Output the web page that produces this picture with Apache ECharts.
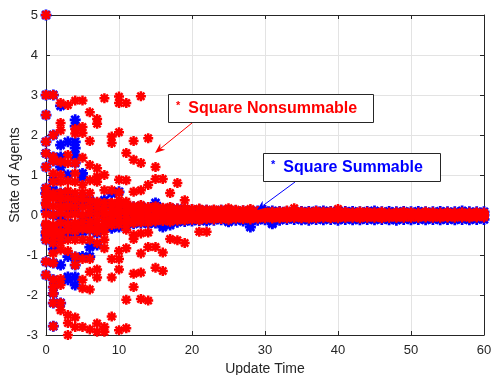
<!DOCTYPE html>
<html>
<head>
<meta charset="utf-8">
<script src="https://cdn.jsdelivr.net/npm/echarts@6/dist/echarts.min.js"></script>
<style>
html,body{margin:0;padding:0;background:#fff;}
#chart{width:491px;height:375px;}
</style>
</head>
<body>
<div id="chart"></div>
<script>
// ---- Data ----
const times = [0,1,2,3,4,5,6,7,8,9,10,11,12,13,14,15,16,17,18,19,20,21,22,23,24,25,26,27,28,29,30,31,32,33,34,35,36,37,38,39,40,41,42,43,44,45,46,47,48,49,50,51,52,53,54,55,56,57,58,59,60];
const xTicks = [0,10,20,30,40,50,60];
const yTicks = [-3,-2,-1,0,1,2,3,4,5];

// Square Nonsummable (red) – dense band around consensus
const redTop = [0.45,0.42,0.4,0.42,0.38,0.4,0.35,0.33,0.3,0.3, 0.26,0.24,0.22,0.25,0.2,0.22,0.18,0.2,0.16,0.17, 0.15,0.16,0.13,0.14,0.13,0.17,0.13,0.12,0.15,0.1, 0.09,0.08,0.09,0.11,0.17,0.09,0.08,0.1,0.08,0.09, 0.15,0.08,0.07,0.09,0.08,0.07,0.08,0.06,0.07,0.08, 0.07,0.06,0.08,0.07,0.06,0.07,0.06,0.07,0.06,0.07,0.06];
const redHigh = [0.25,0.22,0.2,0.22,0.2,0.2,0.18,0.17,0.15,0.15, 0.13,0.12,0.11,0.12,0.1,0.11,0.09,0.1,0.08,0.09, 0.07,0.08,0.06,0.07,0.06,0.08,0.06,0.05,0.07,0.05, 0.04,0.04,0.05,0.05,0.08,0.04,0.04,0.05,0.04,0.05, 0.07,0.04,0.03,0.04,0.04,0.03,0.04,0.03,0.04,0.04, 0.03,0.03,0.04,0.03,0.03,0.03,0.03,0.04,0.03,0.03,0.03];
const redMid = [0.02,0.0,0.05,0.0,0.02,0.0,0.03,0.01,0.02,0.0, 0.03,0.02,0.04,0.01,0.03,0.02,0.01,0.03,0.02,0.01, 0.02,0.0,0.01,0.02,0.0,0.01,0.02,0.0,0.01,0.0, 0.01,0.0,0.01,0.0,0.02,0.01,0.0,0.01,0.0,0.01, 0.02,0.0,0.01,0.0,0.01,0.0,0.01,0.0,0.01,0.0, 0.01,0.0,0.01,0.0,0.01,0.0,0.01,0.0,0.0,0.01,0.0];
const redLow = [-0.22,-0.25,-0.2,-0.22,-0.2,-0.18,-0.17,-0.15,-0.15,-0.13, -0.12,-0.12,-0.1,-0.09,-0.1,-0.08,-0.09,-0.08,-0.07,-0.07, -0.06,-0.07,-0.05,-0.06,-0.05,-0.06,-0.05,-0.05,-0.06,-0.04, -0.04,-0.05,-0.04,-0.04,-0.04,-0.04,-0.05,-0.04,-0.04,-0.04, -0.04,-0.04,-0.03,-0.04,-0.04,-0.03,-0.04,-0.03,-0.04,-0.03, -0.03,-0.04,-0.03,-0.03,-0.04,-0.03,-0.03,-0.03,-0.03,-0.03,-0.03];
const redBottom = [-0.45,-0.4,-0.42,-0.38,-0.4,-0.35,-0.32,-0.3,-0.28,-0.25, -0.24,-0.22,-0.2,-0.18,-0.19,-0.16,-0.15,-0.17,-0.14,-0.13, -0.12,-0.13,-0.1,-0.11,-0.1,-0.12,-0.09,-0.1,-0.11,-0.09, -0.08,-0.09,-0.08,-0.08,-0.07,-0.08,-0.09,-0.08,-0.07,-0.08, -0.08,-0.07,-0.07,-0.08,-0.07,-0.07,-0.08,-0.07,-0.07,-0.07, -0.07,-0.07,-0.06,-0.07,-0.07,-0.06,-0.07,-0.06,-0.07,-0.06,-0.06];

// Square Nonsummable (red) – scattered states [time, state]
const redScatter = [
[0,5.0],[0,3.0],[0,2.5],[0,1.83],[0,1.54],[0,1.2],[0,0.67],[0,0.54],[0,0.3],[0,-0.25],[0,-0.42],[0,-0.62],[0,-1.17],[0,-1.5],
[1,3.0],[1,2.0],[1,1.45],[1,1.35],[1,1.04],[1,0.83],[1,0.54],[1,-0.3],[1,-0.54],[1,-0.7],[1,-0.96],[1,-1.2],[1,-1.62],[1,-1.8],[1,-1.96],[1,-2.2],[1,-2.78],
[2,2.8],[2,2.3],[2,2.12],[2,1.33],[2,1.0],[2,0.83],[2,0.55],[2,0.2],[2,-0.54],[2,-0.7],[2,-0.87],[2,-1.6],[2,-1.75],[2,-2.2],[2,-2.38],
[3,2.75],[3,1.5],[3,1.3],[3,0.85],[3,0.6],[3,0.2],[3,-0.62],[3,-0.9],[3,-2.5],[3,-2.7],[3,-3.0],
[4,2.86],[4,2.04],[4,2.15],[4,1.3],[4,1.04],[4,0.83],[4,0.55],[4,-0.3],[4,-0.62],[4,-1.04],[4,-1.25],[4,-2.56],[4,-2.8],
[5,2.86],[5,2.2],[5,2.05],[5,1.43],[5,0.75],[5,0.55],[5,-0.62],[5,-1.1],[5,-1.62],[5,-1.83],[5,-2.8],
[6,2.57],[6,1.85],[6,1.25],[6,0.87],[6,0.55],[6,-0.37],[6,-0.62],[6,-1.1],[6,-1.42],[6,-1.86],[6,-2.86],
[7,2.4],[7,2.28],[7,1.17],[7,0.96],[7,0.83],[7,-0.42],[7,-0.7],[7,-1.36],[7,-1.56],[7,-2.71],[7,-2.92],
[8,2.92],[8,1.0],[8,0.62],[8,-0.42],[8,-0.62],[8,-0.83],[8,-2.8],[8,-2.92],
[9,1.96],[9,1.8],[9,0.62],[9,0.3],[9,-1.1],[9,-1.56],[9,-2.54],
[10,2.96],[10,2.8],[10,2.07],[10,0.88],[10,0.56],[10,0.37],[10,-0.9],[10,-1.1],[10,-1.36],[10,-2.88],
[11,2.8],[11,1.55],[11,0.87],[11,0.33],[11,-0.37],[11,-0.83],[11,-2.12],[11,-2.83],
[12,1.85],[12,1.38],[12,0.58],[12,-0.5],[12,-0.6],[12,-1.47],[12,-1.8],
[13,2.97],[13,1.3],[13,0.62],[13,-0.46],[13,-0.96],[13,-1.44],[13,-2.1],
[14,1.92],[14,0.75],[14,-0.44],[14,-0.8],[14,-2.14],
[15,1.2],[15,0.9],[15,-0.8],[15,-1.32],
[16,0.9],[16,-0.94],[16,-1.4],
[17,0.55],[17,-0.6],
[18,0.8],[18,-0.63],
[19,0.37],[19,-0.7],
[21,-0.42],[22,-0.42]
];

// Square Summable (blue) – dense band
const blueTop = [0.55,0.5,0.45,0.4,0.38,0.35,0.32,0.3,0.28,0.26, 0.24,0.22,0.2,0.22,0.18,0.22,0.16,0.17,0.15,0.15, 0.13,0.13,0.12,0.11,0.12,0.12,0.11,0.1,0.1,0.1, 0.11,0.1,0.09,0.09,0.1,0.09,0.09,0.1,0.1,0.09, 0.1,0.09,0.09,0.08,0.09,0.1,0.08,0.09,0.08,0.09, 0.08,0.09,0.08,0.08,0.09,0.08,0.08,0.1,0.08,0.08,0.08];
const blueMid = [0.1,0.0,-0.1,0.05,0.1,-0.05,0.0,0.05,-0.02,0.0, 0.02,0.0,0.03,-0.02,0.0,0.02,-0.01,0.0,0.01,0.0, 0.01,0.0,0.0,0.01,0.0,0.0,0.01,0.0,0.0,0.0, 0.0,0.01,0.0,0.0,0.0,0.01,0.0,0.0,0.0,0.01, 0.0,0.0,0.01,0.0,0.0,0.0,0.01,0.0,0.0,0.0, 0.01,0.0,0.0,0.0,0.01,0.0,0.0,0.0,0.01,0.0,0.0];
const blueBottom = [-0.5,-0.55,-0.6,-0.5,-0.45,-0.42,-0.38,-0.34,-0.3,-0.28, -0.26,-0.24,-0.22,-0.2,-0.22,-0.2,-0.24,-0.2,-0.18,-0.16, -0.15,-0.14,-0.15,-0.13,-0.12,-0.17,-0.13,-0.15,-0.22,-0.13, -0.12,-0.2,-0.13,-0.11,-0.11,-0.12,-0.13,-0.11,-0.12,-0.11, -0.13,-0.11,-0.12,-0.12,-0.11,-0.12,-0.11,-0.12,-0.13,-0.11, -0.12,-0.11,-0.12,-0.11,-0.12,-0.11,-0.12,-0.11,-0.12,-0.11,-0.11];

// Square Summable (blue) – scattered states [time, state]
const blueScatter = [
[0,5.0],[0,3.0],[0,2.5],[0,1.83],[0,1.54],[0,1.2],[0,0.67],[0,0.54],[0,0.3],[0,-0.25],[0,-0.42],[0,-0.62],[0,-1.17],[0,-1.5],
[1,3.0],[1,2.0],[1,1.45],[1,1.35],[1,0.87],[1,0.62],[1,-0.5],[1,-0.7],[1,-0.85],[1,-1.2],[1,-1.62],[1,-1.8],[1,-1.96],[1,-2.2],[1,-2.78],
[2,2.73],[2,1.75],[2,1.45],[2,1.2],[2,0.55],[2,0.3],[2,-0.25],[2,-0.5],[2,-1.25],[2,-2.2],
[3,1.83],[3,1.0],[3,0.5],[3,0.45],[3,-0.2],[3,-0.35],[3,-1.04],[3,-1.55],[3,-1.62],
[4,2.38],[4,2.22],[4,1.83],[4,1.67],[4,1.5],[4,1.3],[4,0.33],[4,-0.37],[4,-1.05],[4,-1.25],[4,-1.55],[4,-1.75],
[5,1.04],[5,0.95],[5,0.46],[5,-0.33],[5,-1.04],
[6,0.37],[6,-0.2],[6,-0.8],[6,-1.04],
[7,-0.45],[7,-0.75],
[8,0.37],[9,0.54],[9,-0.33],[10,0.58],[10,-0.3],[15,0.3],[16,-0.3],[17,-0.25],[25,-0.16],[28,-0.3],[31,-0.22]
];

// ---- Chart ----
const STAR = 'path://M7.5,0L12.5,0L12.5,20L7.5,20Z M0,7.5L20,7.5L20,12.5L0,12.5Z M4.6,1.1L18.9,15.4L15.4,18.9L1.1,4.6Z M15.4,1.1L18.9,4.6L4.6,18.9L1.1,15.4Z';
const AX = '#262626';
const FONT = '"Liberation Sans", Arial, Helvetica, sans-serif';

function band(arr){ return times.map((t,i)=>[t, arr[i]]); }

const chart = echarts.init(document.getElementById('chart'), null, {renderer:'canvas'});

function mkX(pos, labels){
  return {
    type:'value', position:pos, min:xTicks[0], max:xTicks[xTicks.length-1], interval:10,
    axisLine:{show:true, onZero:false, lineStyle:{color:AX, width:1}},
    axisTick:{show:true, inside:true, length:4, lineStyle:{color:AX}},
    axisLabel:{show:labels, color:AX, fontSize:13, fontFamily:FONT, margin:9},
    splitLine:{show:labels, lineStyle:{color:'#e3e3e3', width:1}},
    name: labels ? 'Update Time' : '', nameLocation:'middle', nameGap:27, nameMoveOverlap:false,
    nameTextStyle:{color:AX, fontSize:14, fontFamily:FONT}
  };
}
function mkY(pos, labels){
  return {
    type:'value', position:pos, min:yTicks[0], max:yTicks[yTicks.length-1], interval:1,
    axisLine:{show:true, onZero:false, lineStyle:{color:AX, width:1}},
    axisTick:{show:true, inside:true, length:4, lineStyle:{color:AX}},
    axisLabel:{show:labels, color:AX, fontSize:13, fontFamily:FONT, margin:8},
    splitLine:{show:labels, lineStyle:{color:'#e3e3e3', width:1}},
    name: labels ? 'State of Agents' : '', nameLocation:'middle', nameGap:24, nameMoveOverlap:false,
    nameTextStyle:{color:AX, fontSize:14, fontFamily:FONT}
  };
}

const blueStyle = {symbol:STAR, symbolSize:11, itemStyle:{color:'#0000ff', opacity:1}};
const redStyle = {symbol:STAR, symbolSize:10, itemStyle:{color:'#ff0000', opacity:1}};

const series = [];
[blueTop, blueMid, blueBottom].forEach(a=>series.push(Object.assign({type:'scatter', data:band(a), silent:true, animation:false}, blueStyle)));
series.push(Object.assign({type:'scatter', data:blueScatter, silent:true, animation:false}, blueStyle));
[redTop, redHigh, redMid, redLow, redBottom].forEach(a=>series.push(Object.assign({type:'scatter', data:band(a), silent:true, animation:false}, redStyle)));
series.push(Object.assign({type:'scatter', data:redScatter, silent:true, animation:false}, redStyle));

function arrow(x1,y1,x2,y2,color){
  const dx=x2-x1, dy=y2-y1, L=Math.hypot(dx,dy), ux=dx/L, uy=dy/L, px=-uy, py=ux;
  const hl=10, hw=4, nl=7;
  const bx=x2-hl*ux, by=y2-hl*uy, nx=x2-nl*ux, ny=y2-nl*uy;
  return [
    {type:'line', z:100, shape:{x1:x1,y1:y1,x2:nx,y2:ny}, style:{stroke:color, lineWidth:1}},
    {type:'polygon', z:100, shape:{points:[[x2,y2],[bx+hw*px,by+hw*py],[nx,ny],[bx-hw*px,by-hw*py]]}, style:{fill:color}}
  ];
}
function box(left,top,w,h,text,color){
  return [
    {type:'rect', z:100, shape:{x:left+0.5,y:top+0.5,width:w,height:h}, style:{fill:'#fff', stroke:AX, lineWidth:1}},
    {type:'text', z:101, x:left+8, y:top+h/2+1, style:{
      text:'{s|*}{b|'+text+'}', verticalAlign:'middle', align:'left',
      rich:{
        s:{fontSize:11, fontWeight:'bold', fill:color, fontFamily:FONT, verticalAlign:'top', padding:[0,8,6,0]},
        b:{fontSize:16, fontWeight:'bold', fill:color, fontFamily:FONT}
      }
    }}
  ];
}

chart.setOption({
  animation:false,
  backgroundColor:'#fff',
  grid:{left:46, right:7, top:15, bottom:40, containLabel:false, outerBoundsMode:'none'},
  xAxis:[mkX('bottom', true), mkX('top', false)],
  yAxis:[mkY('left', true), mkY('right', false)],
  series: series,
  graphic: [].concat(
    arrow(192,123,155,153,'#ff0000'),
    arrow(295,182,257,210,'#0000ff'),
    box(168,94,205,28,'Square Nonsummable','#ff0000'),
    box(263,153,177,28,'Square Summable','#0000ff')
  )
});
</script>
</body>
</html>
